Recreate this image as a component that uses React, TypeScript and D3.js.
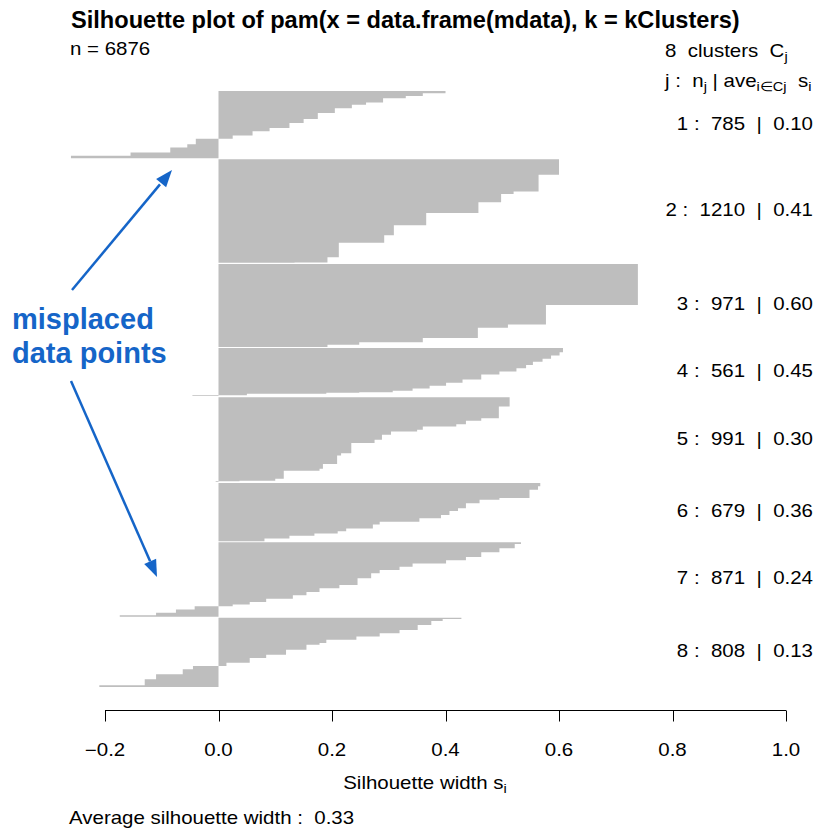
import React from "react";
import * as d3 from "d3";

// Silhouette widths per cluster, as runs of [count, s_i] sorted from largest to smallest
const cluster1Runs: [number, number][] = [
  [27, 0.40], [31, 0.36], [27, 0.33], [50, 0.29], [27, 0.26], [38, 0.235], [58, 0.205],
  [69, 0.175], [46, 0.15], [58, 0.125], [38, 0.09], [50, 0.06], [38, 0.025],
  [66, -0.04], [38, -0.055], [58, -0.085], [38, -0.155], [28, -0.26],
];
const cluster2Runs: [number, number][] = [
  [181, 0.60], [197, 0.564], [27, 0.52], [97, 0.498], [127, 0.458], [142, 0.366],
  [116, 0.309], [89, 0.292], [169, 0.212], [62, 0.192], [3, 0.134],
];
const cluster3Runs: [number, number][] = [
  [480, 0.739], [227, 0.577], [40, 0.51], [118, 0.457], [51, 0.36], [27, 0.248], [28, 0.192],
];
const cluster4Runs: [number, number][] = [
  [49, 0.607], [37, 0.601], [38, 0.586], [37, 0.571], [37, 0.554], [38, 0.542], [37, 0.525],
  [37, 0.495], [56, 0.463], [38, 0.43], [37, 0.401], [30, 0.372], [26, 0.342], [19, 0.307],
  [7, 0.248], [11, 0.19], [16, 0.05], [11, -0.046],
];
const cluster5Runs: [number, number][] = [
  [110, 0.513], [136, 0.494], [30, 0.463], [40, 0.436], [27, 0.419], [38, 0.36], [20, 0.35],
  [38, 0.304], [58, 0.288], [40, 0.275], [117, 0.234], [27, 0.216], [101, 0.209], [54, 0.184],
  [23, 0.178], [93, 0.115], [23, 0.1], [8, 0.037], [8, -0.005],
];
const cluster6Runs: [number, number][] = [
  [39, 0.567], [39, 0.563], [98, 0.548], [20, 0.495], [39, 0.46], [59, 0.436], [32, 0.422],
  [47, 0.407], [39, 0.392], [39, 0.354], [32, 0.284], [47, 0.272], [32, 0.225], [27, 0.21],
  [27, 0.169], [32, 0.125], [31, 0.081],
];
const cluster7Runs: [number, number][] = [
  [20, 0.533], [50, 0.522], [46, 0.495], [58, 0.463], [38, 0.436], [38, 0.401], [38, 0.342],
  [38, 0.319], [38, 0.284], [58, 0.269], [77, 0.245], [38, 0.213], [46, 0.178], [38, 0.155],
  [38, 0.131], [38, 0.084], [31, 0.055], [20, 0.025], [38, -0.042], [39, -0.075], [27, -0.11],
  [19, -0.174],
];
const cluster8Runs: [number, number][] = [
  [15, 0.428], [23, 0.395], [46, 0.375], [58, 0.351], [38, 0.319], [38, 0.284], [38, 0.243],
  [38, 0.19], [20, 0.178], [58, 0.155], [58, 0.119], [38, 0.084], [58, 0.055], [38, 0.014],
  [38, -0.045], [58, -0.063], [58, -0.11], [69, -0.13], [21, -0.21],
];

const clusterIds = [1, 2, 3, 4, 5, 6, 7, 8];
const clusterSizes = [785, 1210, 971, 561, 991, 679, 871, 808];
const clusterAverages = ["0.10", "0.41", "0.60", "0.45", "0.30", "0.36", "0.24", "0.13"];
const xTicks = [-0.2, 0, 0.2, 0.4, 0.6, 0.8, 1.0];
const totalN = 6876;
const averageWidth = "0.33";

const clusterRuns = [
  cluster1Runs, cluster2Runs, cluster3Runs, cluster4Runs,
  cluster5Runs, cluster6Runs, cluster7Runs, cluster8Runs,
];

const W = 818;
const H = 835;
const FONT = "'Liberation Sans', Arial, Helvetica, sans-serif";
const BAR = "#bebebe";
const BLUE = "#1565c8";
const GAP = 12; // empty bar slots between clusters
const FS = 17.5; // body text size
const SX = 1.17; // horizontal stretch of body text
const SUB = 12.5; // subscript size
const AXIS_Y = 710.5;

const x = d3.scaleLinear().domain([-0.2, 1.0]).range([105, 786]);
const y = d3.scaleLinear().domain([0, totalN + GAP * (clusterSizes.length - 1)]).range([91, 687]);

type Pt = { v: number; py: number };
const area = d3
  .area<Pt>()
  .curve(d3.curveStepBefore)
  .y((d) => d.py)
  .x0(x(0))
  .x1((d) => x(d.v));

function arrowHead(x1: number, y1: number, x2: number, y2: number, len = 17, half = 6.5) {
  const dx = x2 - x1;
  const dy = y2 - y1;
  const L = Math.hypot(dx, dy);
  const ux = dx / L;
  const uy = dy / L;
  const bx = x2 - ux * len;
  const by = y2 - uy * len;
  return `M${x2},${y2}L${bx - uy * half},${by + ux * half}L${bx + uy * half},${by - ux * half}Z`;
}

function T(props: {
  x: number;
  y: number;
  anchor?: "start" | "middle" | "end";
  size?: number;
  sx?: number;
  children: React.ReactNode;
}) {
  const { x: tx, y: ty, anchor = "start", size = FS, sx = SX, children } = props;
  return (
    <text
      transform={`translate(${tx},${ty}) scale(${sx},1)`}
      textAnchor={anchor}
      fontSize={size}
      style={{ whiteSpace: "pre" }}
    >
      {children}
    </text>
  );
}

export default function App() {
  let offset = 0;
  const clusters = clusterRuns.map((runs, ci) => {
    const start = offset;
    const pts: Pt[] = [];
    let s = 0;
    runs.forEach(([count, v]) => {
      pts.push({ v, py: y(start + s) });
      s += count;
    });
    pts.push({ v: runs[runs.length - 1][1], py: y(start + s) });
    offset += clusterSizes[ci] + GAP;
    return { path: area(pts) as string, mid: y(start + clusterSizes[ci] / 2) };
  });

  const ax1 = { x1: 72, y1: 290, x2: 172, y2: 170 };
  const ax2 = { x1: 71, y1: 381, x2: 157, y2: 577 };

  return (
    <svg width={W} height={H} style={{ display: "block", position: "absolute", left: 0, top: 0 }} fontFamily={FONT}>
      <rect width={W} height={H} fill="#fff" />
      <text x={71} y={28} fontSize={23.6} fontWeight="bold">
        Silhouette plot of pam(x = data.frame(mdata), k = kClusters)
      </text>
      <T x={70} y={55}>{`n = ${totalN}`}</T>

      <T x={665} y={56.5}>
        {`${clusterIds.length}  clusters  C`}
        <tspan fontSize={SUB} dy={4}>j</tspan>
      </T>
      <T x={665} y={87}>
        {"j :  n"}
        <tspan fontSize={SUB} dy={4}>j</tspan>
        <tspan dy={-4}>{" | ave"}</tspan>
        <tspan fontSize={SUB} dy={4}>{"i\u2208Cj"}</tspan>
        <tspan dy={-4}>{"  s"}</tspan>
        <tspan fontSize={SUB} dy={4}>i</tspan>
      </T>

      {clusters.map((c, i) => (
        <path key={i} d={c.path} fill={BAR} stroke="none" />
      ))}

      {clusters.map((c, i) => (
        <T key={i} x={813} y={c.mid + 5} anchor="end">
          {`${clusterIds[i]} :  ${clusterSizes[i]}  |  ${clusterAverages[i]}`}
        </T>
      ))}

      {/* x axis */}
      <g stroke="#000" strokeWidth={1}>
        <line x1={x(xTicks[0])} x2={x(xTicks[xTicks.length - 1])} y1={AXIS_Y} y2={AXIS_Y} />
        {xTicks.map((t) => (
          <line key={t} x1={Math.round(x(t)) + 0.5} x2={Math.round(x(t)) + 0.5} y1={AXIS_Y} y2={AXIS_Y + 11} />
        ))}
      </g>
      {xTicks.map((t) => (
        <T key={t} x={x(t)} y={756} anchor="middle">
          {d3.format(".1f")(t).replace("-", "\u2212")}
        </T>
      ))}
      <T x={425} y={789} anchor="middle">
        {"Silhouette width s"}
        <tspan fontSize={SUB} dy={4}>i</tspan>
      </T>
      <T x={69} y={824}>{`Average silhouette width :  ${averageWidth}`}</T>

      {/* annotation */}
      <g fill={BLUE} fontWeight="bold" fontSize={29}>
        <text x={12} y={329}>misplaced</text>
        <text x={12} y={363}>data points</text>
      </g>
      <g stroke={BLUE} strokeWidth={2.5}>
        <line x1={ax1.x1} y1={ax1.y1} x2={ax1.x1 + (ax1.x2 - ax1.x1) * 0.88} y2={ax1.y1 + (ax1.y2 - ax1.y1) * 0.88} />
        <line x1={ax2.x1} y1={ax2.y1} x2={ax2.x1 + (ax2.x2 - ax2.x1) * 0.92} y2={ax2.y1 + (ax2.y2 - ax2.y1) * 0.92} />
      </g>
      <path d={arrowHead(ax1.x1, ax1.y1, ax1.x2, ax1.y2)} fill={BLUE} />
      <path d={arrowHead(ax2.x1, ax2.y1, ax2.x2, ax2.y2)} fill={BLUE} />
    </svg>
  );
}
